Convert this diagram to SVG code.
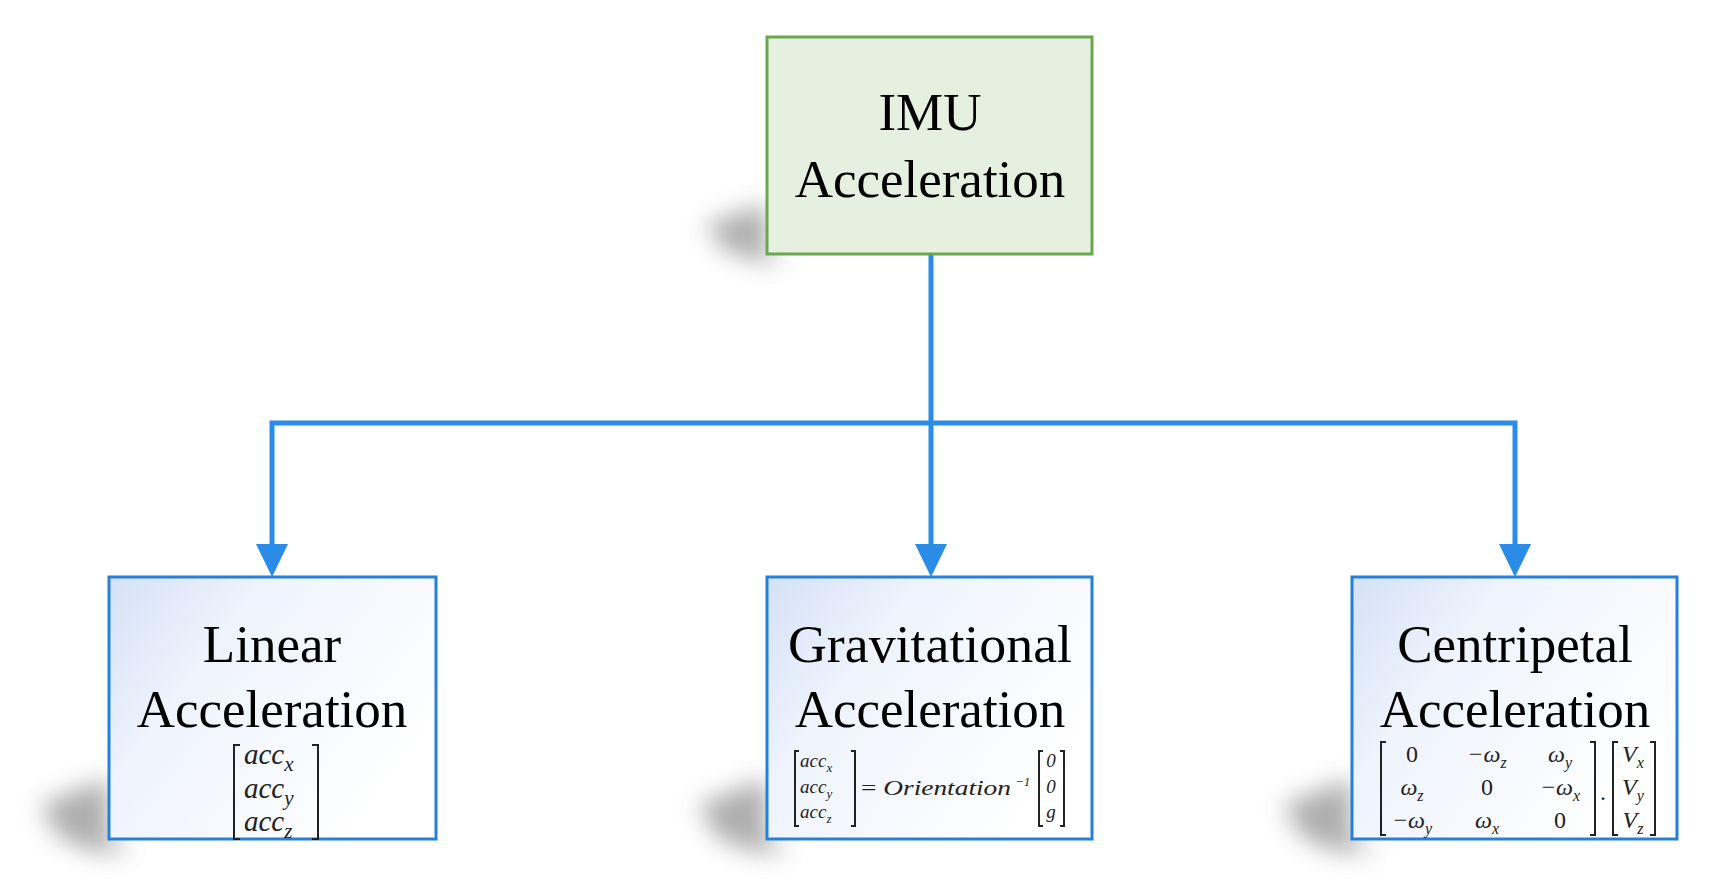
<svg xmlns="http://www.w3.org/2000/svg" width="1722" height="883" viewBox="0 0 1722 883">
<style>
.t{font-family:"Liberation Serif","Times New Roman",serif;font-size:53px;fill:#000;text-anchor:middle}
.m{font-family:"Liberation Serif","Times New Roman",serif;font-style:italic;fill:#222}
.br{fill:none;stroke:#222;stroke-width:2}
.conn{fill:none;stroke:#2b8ce8;stroke-width:5}
.box{fill:url(#bg);stroke:#2480d8;stroke-width:3}
</style>
<defs>
<linearGradient id="bg" x1="0" y1="0" x2="1" y2="0.6">
<stop offset="0" stop-color="#d5e1f7"/><stop offset="0.35" stop-color="#eef3fc"/><stop offset="1" stop-color="#ffffff"/>
</linearGradient>
<filter id="sh" x="-50%" y="-50%" width="200%" height="200%"><feGaussianBlur stdDeviation="12"/></filter>
</defs>
<g id="shadows" fill="#777" opacity="0.6" filter="url(#sh)">
<polygon points="762,205 767,205 767,254 790,262 760,262 725,250 705,225"/>
<polygon points="104,780 109,780 109,839 135,852 95,852 60,838 40,805"/>
<polygon points="762,780 767,780 767,839 793,852 753,852 718,838 698,805"/>
<polygon points="1347,780 1352,780 1352,839 1378,852 1338,852 1303,838 1283,805"/>
</g>
<g id="connectors">
<path class="conn" d="M931,254 V545 M272,545 V423 H1515 V545"/>
<polygon fill="#2b8ce8" points="256,544 288,544 272,577"/>
<polygon fill="#2b8ce8" points="915,544 947,544 931,577"/>
<polygon fill="#2b8ce8" points="1499,544 1531,544 1515,577"/>
</g>
<g id="imu">
<rect x="767" y="37" width="325" height="217" fill="#e5f0e0" stroke="#6aa84f" stroke-width="3"/>
<text class="t" x="930" y="130">IMU</text>
<text class="t" x="930" y="197">Acceleration</text>
</g>
<g id="linear">
<rect class="box" x="109" y="577" width="327" height="262"/>
<text class="t" x="272" y="662">Linear</text>
<text class="t" x="272" y="727">Acceleration</text>
<path class="br" d="M240,745 h-6 v94 h6 M312,745 h6 v94 h-6"/>
<text class="m" font-size="29" x="244" y="764">acc<tspan font-size="21" dy="7">x</tspan></text>
<text class="m" font-size="29" x="244" y="798">acc<tspan font-size="21" dy="7">y</tspan></text>
<text class="m" font-size="29" x="244" y="831">acc<tspan font-size="21" dy="7">z</tspan></text>
</g>
<g id="gravitational">
<rect class="box" x="767" y="577" width="325" height="262"/>
<text class="t" x="930" y="662" textLength="284" lengthAdjust="spacingAndGlyphs">Gravitational</text>
<text class="t" x="930" y="727">Acceleration</text>
<path class="br" d="M799,751 h-4 v75 h4 M851,751 h4 v75 h-4"/>
<text class="m" font-size="19" x="800" y="767">acc<tspan font-size="13" dy="5">x</tspan></text>
<text class="m" font-size="19" x="800" y="793">acc<tspan font-size="13" dy="5">y</tspan></text>
<text class="m" font-size="19" x="800" y="818">acc<tspan font-size="13" dy="5">z</tspan></text>
<text class="m" font-size="21" x="861" y="795" textLength="150" lengthAdjust="spacingAndGlyphs"><tspan font-style="normal">=</tspan> Orientation</text>
<text class="m" font-size="13" x="1015" y="786" font-style="normal">−1</text>
<path class="br" d="M1043,751 h-4 v75 h4 M1060,751 h4 v75 h-4"/>
<text class="m" font-size="19" x="1051" y="767" text-anchor="middle" font-style="normal">0</text>
<text class="m" font-size="19" x="1051" y="793" text-anchor="middle" font-style="normal">0</text>
<text class="m" font-size="19" x="1051" y="818" text-anchor="middle">g</text>
</g>
<g id="centripetal">
<rect class="box" x="1352" y="577" width="325" height="262"/>
<text class="t" x="1515" y="662">Centripetal</text>
<text class="t" x="1515" y="727">Acceleration</text>
<path class="br" d="M1386,742 h-5 v93 h5 M1590,742 h5 v93 h-5 M1618,742 h-5 v93 h5 M1650,742 h5 v93 h-5"/>
<g class="m" font-size="24" text-anchor="middle">
<text x="1412" y="762" font-style="normal">0</text>
<text x="1487" y="762">−ω<tspan font-size="16" dy="6">z</tspan></text>
<text x="1560" y="762">ω<tspan font-size="16" dy="6">y</tspan></text>
<text x="1412" y="795">ω<tspan font-size="16" dy="6">z</tspan></text>
<text x="1487" y="795" font-style="normal">0</text>
<text x="1560" y="795">−ω<tspan font-size="16" dy="6">x</tspan></text>
<text x="1412" y="828">−ω<tspan font-size="16" dy="6">y</tspan></text>
<text x="1487" y="828">ω<tspan font-size="16" dy="6">x</tspan></text>
<text x="1560" y="828" font-style="normal">0</text>
<text x="1603" y="800" font-style="normal">.</text>
<text x="1633" y="762">V<tspan font-size="16" dy="6">x</tspan></text>
<text x="1633" y="795">V<tspan font-size="16" dy="6">y</tspan></text>
<text x="1633" y="828">V<tspan font-size="16" dy="6">z</tspan></text>
</g>
</g>
</svg>
